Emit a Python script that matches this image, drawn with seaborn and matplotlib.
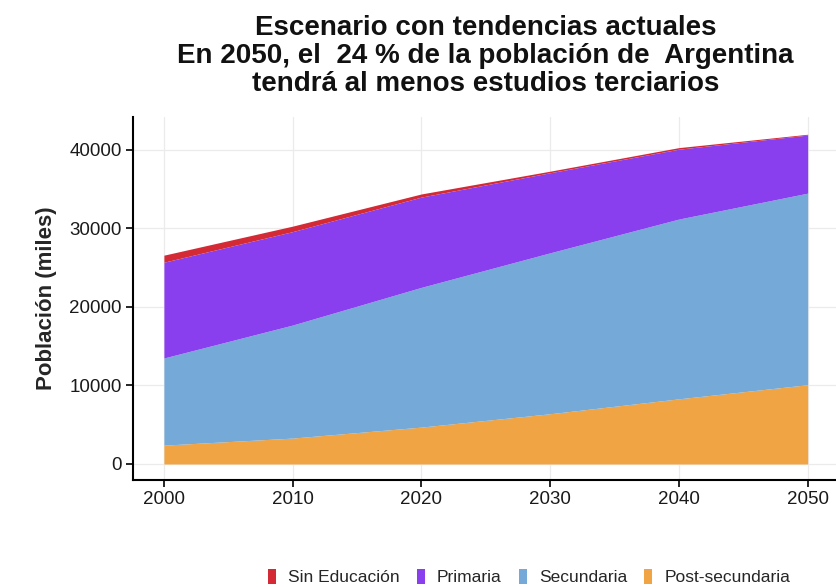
import matplotlib
matplotlib.use("Agg")
import matplotlib.pyplot as plt
from matplotlib.patches import Patch
import seaborn as sns
import pandas as pd

# Population by educational attainment (thousands), current-trends scenario
years = [2000, 2010, 2020, 2030, 2040, 2050]
post_secundaria = [2400, 3300, 4700, 6400, 8300, 10100]
secundaria = [11100, 14400, 17800, 20500, 22900, 24400]
primaria = [12200, 11900, 11500, 10200, 8900, 7400]
sin_educacion = [900, 700, 400, 200, 200, 100]

series_names = ["Sin Educación", "Primaria", "Secundaria", "Post-secundaria"]
colors = {
    "Sin Educación": "#D42A35",
    "Primaria": "#8A3FEE",
    "Secundaria": "#74A9D8",
    "Post-secundaria": "#F0A444",
}
x_ticks = [2000, 2010, 2020, 2030, 2040, 2050]
y_ticks = [0, 10000, 20000, 30000, 40000]

df = pd.DataFrame({
    "year": years,
    "Post-secundaria": post_secundaria,
    "Secundaria": secundaria,
    "Primaria": primaria,
    "Sin Educación": sin_educacion,
})

sns.set_theme(style="whitegrid")
plt.rcParams["font.family"] = ["Liberation Sans", "DejaVu Sans"]

fig = plt.figure(figsize=(8.36, 5.87), dpi=100)
ax = fig.add_axes([133 / 836, 1 - 480 / 587, (836 - 133) / 836, (480 - 117) / 587])

stack_order = ["Post-secundaria", "Secundaria", "Primaria", "Sin Educación"]
ax.stackplot(df["year"], *[df[c] for c in stack_order],
             colors=[colors[c] for c in stack_order], linewidth=0, zorder=2)

ax.set_xlim(1997.6, 2052.2)
ax.set_ylim(-2040, 44200)
ax.set_xticks(x_ticks)
ax.set_yticks(y_ticks)
ax.set_xticklabels([str(v) for v in x_ticks])
ax.set_yticklabels([str(v) for v in y_ticks])

ax.set_facecolor("white")
ax.grid(True, color="#EBEBEB", linewidth=0.9, zorder=0)
ax.set_axisbelow(True)
for side in ["top", "right"]:
    ax.spines[side].set_visible(False)
for side in ["left", "bottom"]:
    ax.spines[side].set_color("black")
    ax.spines[side].set_linewidth(1.5)
ax.tick_params(axis="both", which="major", direction="out", length=5, width=1.2,
               color="black", labelsize=13.5, labelcolor="#1a1a1a", pad=3,
               bottom=True, left=True)

ax.set_xlabel("")
ax.set_ylabel("Población (miles)", fontsize=16, fontweight="bold", labelpad=9)

fig.text(0.581, 0.975,
         "Escenario con tendencias actuales\n"
         "En 2050, el  24 % de la población de  Argentina\n"
         "tendrá al menos estudios terciarios",
         ha="center", va="top", fontsize=20, fontweight="bold",
         linespacing=1.12, color="#111111")

handles = [Patch(facecolor=colors[n], edgecolor="none") for n in series_names]
fig.legend(handles, series_names, loc="center", bbox_to_anchor=(529 / 836, 1 - 577 / 587),
           ncol=4, frameon=False, fontsize=12.5, handlelength=0.45, handleheight=1.0,
           handletextpad=0.7, columnspacing=1.0)

fig.savefig("out.png", dpi=100)
